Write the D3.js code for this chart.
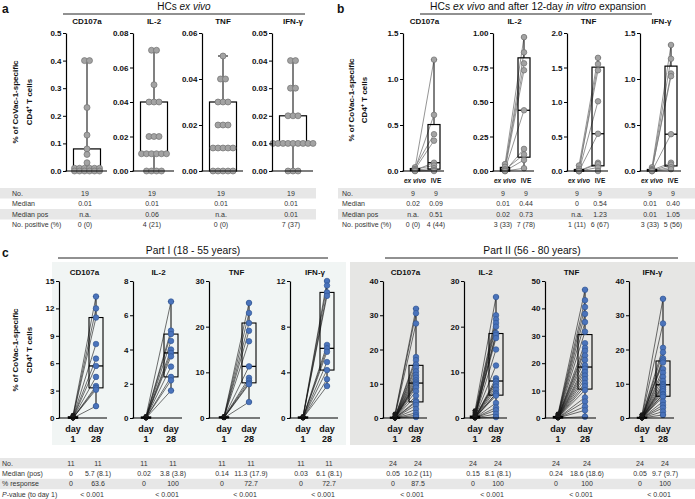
<!DOCTYPE html>
<html><head><meta charset="utf-8">
<script src="https://cdn.jsdelivr.net/npm/d3@7"></script>
<style>body{margin:0;background:#fff}svg{display:block}</style>
</head><body><svg id="chart" width="695" height="499"></svg>
<script>
// ---------------- DATA ----------------
const cytokines = ["CD107a", "IL-2", "TNF", "IFN-γ"];
// panel a: HCs ex vivo (n=19)
const aCD107a = [0.40,0.40,0.23,0.13,0.08,0.06,0.03,0.01,0.01,0.01,0.01,0.01,0.01,0,0,0,0,0,0];
const aIL2    = [0.07,0.07,0.05,0.04,0.04,0.04,0.02,0.02,0.02,0.01,0.01,0.01,0.01,0.01,0.01,0,0,0,0];
const aTNF    = [0.05,0.04,0.04,0.03,0.03,0.03,0.02,0.02,0.02,0.01,0.01,0.01,0.01,0.01,0,0,0,0,0];
const aIFNg   = [0.04,0.04,0.03,0.03,0.02,0.02,0.02,0.01,0.01,0.01,0.01,0.01,0.01,0.01,0.01,0.01,0,0,0];
const aTicks = [[0,0.1,0.2,0.3,0.4,0.5],[0,0.02,0.04,0.06,0.08],[0,0.02,0.04,0.06],[0,0.01,0.02,0.03,0.04,0.05]];
const aTickFmt = [".1f",".2f",".2f",".2f"];
const aRowLabels = ["No.","Median","Median pos","No. positive (%)"];
const aNo = ["19","19","19","19"];
const aMedian = ["0.01","0.01","0.01","0.01"];
const aMedianPos = ["n.a.","0.06","n.a.","0.01"];
const aPositive = ["0 (0)","4 (21)","0 (0)","7 (37)"];

// panel b: ex vivo vs IVE (n=9, paired)
const bCD107aExVivo = [0.03,0.02,0.04,0.02,0.01,0.02,0.01,0,0];
const bCD107aIVE    = [1.21,0.61,0.40,0.33,0.09,0.06,0.03,0.01,0];
const bIL2ExVivo    = [0.05,0.02,0.03,0.01,0.01,0,0.01,0,0];
const bIL2IVE       = [0.97,0.86,0.78,0.73,0.44,0.16,0.12,0.08,0.02];
const bTNFExVivo    = [0.08,0.01,0.03,0,0,0,0,0,0];
const bTNFIVE       = [1.64,1.55,1.46,1.01,0.54,0.12,0.10,0.05,0];
const bIFNgExVivo   = [0.04,0.02,0.01,0.01,0,0.01,0,0,0];
const bIFNgIVE      = [1.37,1.22,1.06,1.03,0.40,0.09,0.07,0.04,0.02];
const bTicks = [[0,0.5,1,1.5],[0,0.25,0.5,0.75,1],[0,0.5,1,1.5,2],[0,0.5,1,1.5]];
const bTickFmt = [".1f",".2f",".1f",".1f"];
const bGroups = ["ex vivo","IVE"];
const bNo = ["9","9","9","9","9","9","9","9"];
const bMedian = ["0.02","0.09","0.01","0.44","0","0.54","0.01","0.40"];
const bMedianPos = ["n.a.","0.51","0.02","0.73","n.a.","1.23","0.01","1.05"];
const bPositive = ["0 (0)","4 (44)","3 (33)","7 (78)","1 (11)","6 (67)","3 (33)","5 (56)"];

// panel c Part I (18-55 years, n=11)
const c1CD107aD1  = [0.30,0.20,0.12,0.08,0.05,0,0,0,0,0,0];
const c1CD107aD28 = [13.3,12.0,11.0,8.1,6.5,5.7,4.5,3.5,3.3,3.1,1.3];
const c1IL2D1     = [0.10,0.08,0.05,0.04,0.03,0.02,0.01,0.01,0,0,0];
const c1IL2D28    = [6.8,5.1,4.9,4.5,4.0,3.8,3.6,3.0,2.4,2.2,1.6];
const c1TNFD1     = [0.35,0.28,0.22,0.18,0.15,0.14,0.12,0.10,0.08,0.05,0.02];
const c1TNFD28    = [25.2,23.0,20.8,19.1,16.8,11.3,8.8,8.2,7.7,7.4,3.5];
const c1IFNgD1    = [0.15,0.10,0.08,0.06,0.05,0.03,0.02,0.01,0.01,0,0];
const c1IFNgD28   = [12.0,11.6,11.0,10.7,6.4,6.1,5.8,4.9,4.2,3.4,2.8];
const c1Ticks = [[0,3,6,9,12,15],[0,2,4,6,8],[0,10,20,30],[0,4,8,12]];
// panel c Part II (56-80 years, n=24)
const c2CD107aD1  = [1.2,0.9,0.6,0.4,0.3,0.2,0.15,0.1,0.1,0.08,0.06,0.05,0.05,0.04,0.03,0.02,0.01,0,0,0,0,0,0,0];
const c2CD107aD28 = [31.9,30.6,27.6,17.8,16.9,15.6,14.7,13.6,12.6,11.8,11.0,10.4,10.0,9.6,8.9,7.8,6.5,5.0,4.6,3.8,2.6,1.5,0.8,0.3];
const c2IL2D1     = [1.6,1.2,0.9,0.7,0.5,0.4,0.3,0.25,0.2,0.18,0.16,0.15,0.15,0.12,0.1,0.08,0.06,0.05,0.04,0.03,0.02,0.01,0,0];
const c2IL2D28    = [26.5,22.5,21.6,20.8,20.0,18.6,18.2,17.5,15.0,11.5,8.7,8.2,8.0,7.5,6.9,6.2,5.4,5.3,4.9,3.3,2.3,1.7,0.9,0.2];
const c2TNFD1     = [1.5,1.2,1.0,0.8,0.6,0.5,0.45,0.4,0.35,0.3,0.27,0.25,0.23,0.2,0.18,0.15,0.12,0.1,0.08,0.06,0.04,0.02,0.01,0];
const c2TNFD28    = [46.8,43.0,40.5,38.0,35.0,31.5,27.3,25.6,24.5,22.8,21.2,19.2,18.0,16.8,15.5,14.2,12.8,11.6,10.2,7.5,6.0,4.2,2.8,0.5];
const c2IFNgD1    = [1.0,0.7,0.5,0.3,0.2,0.15,0.12,0.1,0.08,0.07,0.06,0.05,0.05,0.04,0.03,0.02,0.02,0.01,0.01,0,0,0,0,0];
const c2IFNgD28   = [34.8,27.6,20.5,19.2,17.4,16.8,16.2,14.3,13.2,12.0,10.8,9.9,9.5,9.0,8.4,7.8,7.0,6.8,6.2,4.8,3.8,3.0,1.9,0.9];
const c2Ticks = [[0,10,20,30,40],[0,10,20,30],[0,10,20,30,40,50],[0,10,20,30,40]];
const cDays = [["day","1"],["day","28"]];
const cRowLabels = ["No.","Median (pos)","% response","-value (to day 1)"];
const c1No = ["11","11","11","11","11","11","11","11"];
const c1Median = ["0","5.7 (8.1)","0.02","3.8 (3.8)","0.14","11.3 (17.9)","0.03","6.1 (8.1)"];
const c1Response = ["0","63.6","0","100","0","72.7","0","72.7"];
const c1P = ["< 0.001","< 0.001","< 0.001","< 0.001"];
const c2No = ["24","24","24","24","24","24","24","24"];
const c2Median = ["0.05","10.2 (11)","0.15","8.1 (8.1)","0.24","18.6 (18.6)","0.05","9.7 (9.7)"];
const c2Response = ["0","87.5","0","100","0","100","0","100"];
const c2P = ["< 0.001","< 0.001","< 0.001","< 0.001"];

// ---------------- DRAWING ----------------
const F = "'Liberation Sans', Arial, Helvetica, sans-serif";
const svg = d3.select("#chart");

function q(s,p){const n=s.length,pos=p*(n+1);if(pos<=1)return s[0];if(pos>=n)return s[n-1];const lo=Math.floor(pos);return s[lo-1]+(pos-lo)*(s[lo]-s[lo-1]);}
function stats(v){const s=v.slice().sort((a,b)=>a-b);return {min:s[0],q1:q(s,.25),med:q(s,.5),q3:q(s,.75),max:s[s.length-1]};}

function txt(x,y,t,o={}){
  return svg.append("text").attr("x",x).attr("y",y).text(t)
    .attr("font-family",F).attr("font-size",o.size||8)
    .attr("font-weight",o.weight||"normal").attr("font-style",o.style||"normal")
    .attr("fill",o.fill||"#111").attr("text-anchor",o.anchor||"middle");
}
function yAxis(x,y,ticks,fmt){
  const g=svg.append("g").attr("transform",`translate(${x},0)`)
    .call(d3.axisLeft(y).tickValues(ticks).tickFormat(fmt).tickSize(3).tickSizeOuter(0).tickPadding(1.5));
  g.select(".domain").attr("stroke","#000").attr("stroke-width",1.2);
  g.selectAll(".tick line").attr("stroke","#000").attr("stroke-width",1);
  g.selectAll("text").attr("font-size",8).attr("font-weight","bold").attr("font-family",F).attr("fill","#111");
}
function xLine(x,len,y0){svg.append("line").attr("x1",x-0.6).attr("x2",x+len).attr("y1",y0).attr("y2",y0).attr("stroke","#000").attr("stroke-width",1.2);}
function box(cx,w,vals,y,o){
  const st=stats(vals);
  const g=svg.append("g");
  const wc=o.wc||"#000", ww=o.ww||1, cap=o.cap||6;
  g.append("line").attr("x1",cx).attr("x2",cx).attr("y1",y(st.max)).attr("y2",y(st.q3)).attr("stroke",wc).attr("stroke-width",ww);
  g.append("line").attr("x1",cx).attr("x2",cx).attr("y1",y(st.q1)).attr("y2",y(st.min)).attr("stroke",wc).attr("stroke-width",ww);
  [st.max,st.min].forEach(v=>g.append("line").attr("x1",cx-cap/2).attr("x2",cx+cap/2).attr("y1",y(v)).attr("y2",y(v)).attr("stroke",wc).attr("stroke-width",ww));
  g.append("rect").attr("x",cx-w/2).attr("width",w).attr("y",y(st.q3)).attr("height",Math.max(0.1,y(st.q1)-y(st.q3)))
    .attr("fill","none").attr("stroke","#000").attr("stroke-width",o.bw||1.2);
  g.append("line").attr("x1",cx-w/2).attr("x2",cx+w/2).attr("y1",y(st.med)).attr("y2",y(st.med)).attr("stroke","#000").attr("stroke-width",o.mw||1.5);
}
function jitter(vals,sp){const c={},idx={};vals.forEach(v=>c[v]=(c[v]||0)+1);return vals.map(v=>{const i=idx[v]||0;idx[v]=i+1;return (i-(c[v]-1)/2)*sp;});}
function yTitle(x1,x2,cy){
  txt(0,0,"% of CoVac-1-specific",{size:8,weight:"bold"}).attr("transform",`translate(${x1},${cy}) rotate(-90)`);
  const t=txt(0,0,"CD4",{size:8,weight:"bold"}).attr("transform",`translate(${x2},${cy}) rotate(-90)`);
  t.append("tspan").attr("font-size",5.5).attr("dy",-3).text("+");
  t.append("tspan").attr("dy",3).text(" T cells");
}
function bands(x0,x1,y0,rh,n){
  for(let i=0;i<n;i+=2) svg.append("rect").attr("x",x0).attr("y",y0+i*rh).attr("width",x1-x0).attr("height",rh).attr("fill","#e7e7e7");
}

// ---------- panel a ----------
txt(2,13,"a",{size:12,weight:"bold",anchor:"start"});
{const t=txt(184,10,"HCs ",{size:10});t.append("tspan").attr("font-style","italic").text("ex vivo");}
svg.append("line").attr("x1",63).attr("x2",305).attr("y1",14).attr("y2",14).attr("stroke","#222").attr("stroke-width",1);
yTitle(18,32,102);
const aAxisX=[66,133,202,272];
const aVals=[aCD107a,aIL2,aTNF,aIFNg];
const aTop=33,aZero=171;
const aCenters=[];
aVals.forEach((vals,i)=>{
  const x0=aAxisX[i], cx=x0+21; aCenters.push(cx);
  const y=d3.scaleLinear().domain([0,d3.max(aTicks[i])]).range([aZero,aTop]);
  box(cx,27,vals,y,{wc:"#808080",ww:2,cap:10,bw:1.2,mw:1.5});
  const jx=jitter(vals,5);
  svg.append("g").selectAll("circle").data(vals).join("circle")
    .attr("cx",(d,k)=>cx+jx[k]).attr("cy",d=>y(d)).attr("r",3)
    .attr("fill","#a3a3a3").attr("stroke","#707070").attr("stroke-width",0.7);
  yAxis(x0,y,aTicks[i],d3.format(aTickFmt[i]));
  xLine(x0,41,aZero);
  txt(cx,24,cytokines[i],{size:8,weight:"bold"});
});
// table a
const tRow0=188, tRh=10.5;
bands(0,316,tRow0,tRh,4);
aRowLabels.forEach((l,r)=>txt(12,tRow0+r*tRh+7.5,l,{size:7,anchor:"start",fill:"#333"}));
[aNo,aMedian,aMedianPos,aPositive].forEach((row,r)=>row.forEach((v,i)=>txt(aCenters[i]-2,tRow0+r*tRh+7.5,v,{size:7,fill:"#333"})));

// ---------- panel b ----------
txt(337,13,"b",{size:12,weight:"bold",anchor:"start"});
{const t=txt(538,10,"HCs ",{size:10.3});t.append("tspan").attr("font-style","italic").text("ex vivo");
 t.append("tspan").text(" and after 12-day ");t.append("tspan").attr("font-style","italic").text("in vitro");t.append("tspan").text(" expansion");}
svg.append("line").attr("x1",420).attr("x2",652).attr("y1",14).attr("y2",14).attr("stroke","#222").attr("stroke-width",1);
yTitle(354,367,100);
const bAxisX=[403,493,567,640];
const bPairs=[[bCD107aExVivo,bCD107aIVE],[bIL2ExVivo,bIL2IVE],[bTNFExVivo,bTNFIVE],[bIFNgExVivo,bIFNgIVE]];
const bCols=[];
bPairs.forEach((pair,i)=>{
  const x0=bAxisX[i], x1=x0+12, x2=x0+31; bCols.push(x1-2,x2+2);
  const y=d3.scaleLinear().domain([0,d3.max(bTicks[i])]).range([aZero,aTop]);
  svg.append("g").selectAll("line").data(d3.zip(pair[0],pair[1])).join("line")
    .attr("x1",x1).attr("x2",x2).attr("y1",d=>y(d[0])).attr("y2",d=>y(d[1]))
    .attr("stroke","#7a7a7a").attr("stroke-width",0.8);
  box(x1,9,pair[0],y,{wc:"#000",ww:1,cap:5,bw:1.5,mw:1.5});
  box(x2,12,pair[1],y,{wc:"#000",ww:1,cap:6,bw:1.2,mw:1.3});
  [x1,x2].forEach((cx,k)=>svg.append("g").selectAll("circle").data(pair[k]).join("circle")
    .attr("cx",cx).attr("cy",d=>y(d)).attr("r",2.8)
    .attr("fill","#a3a3a3").attr("stroke","#707070").attr("stroke-width",0.7));
  yAxis(x0,y,bTicks[i],d3.format(bTickFmt[i]));
  xLine(x0,41,aZero);
  txt((x1+x2)/2,24,cytokines[i],{size:8,weight:"bold"});
  txt(x1,183,bGroups[0],{size:6.5,weight:"bold",style:"italic"});
  txt(x2+2,183,bGroups[1],{size:6.5,weight:"bold"});
});
bands(338,695,tRow0,tRh,4);
aRowLabels.forEach((l,r)=>txt(342,tRow0+r*tRh+7.5,l,{size:7,anchor:"start",fill:"#333"}));
[bNo,bMedian,bMedianPos,bPositive].forEach((row,r)=>row.forEach((v,i)=>txt(bCols[i],tRow0+r*tRh+7.5,v,{size:7,fill:"#333"})));

// ---------- panel c ----------
svg.append("rect").attr("x",52).attr("y",262).attr("width",294).attr("height",183).attr("fill","#f1f5f4");
svg.append("rect").attr("x",350).attr("y",262).attr("width",345).attr("height",183).attr("fill","#e6e6e4");
txt(2,257,"c",{size:12,weight:"bold",anchor:"start"});
txt(193,254,"Part I (18 - 55 years)",{size:10.3});
txt(532,254,"Part II (56 - 80 years)",{size:10.3});
svg.append("line").attr("x1",58).attr("x2",328).attr("y1",258).attr("y2",258).attr("stroke","#222").attr("stroke-width",1);
svg.append("line").attr("x1",385).attr("x2",678).attr("y1",258).attr("y2",258).attr("stroke","#222").attr("stroke-width",1);
yTitle(18,32,350);
const cTop=281,cZero=418;
const cCols=[];
function partC(axisX,d1Off,d28Off,pairs,ticks){
  pairs.forEach((pair,i)=>{
    const x0=axisX[i], x1=x0+d1Off[i], x2=x0+d28Off[i]; cCols.push(x1-2,x2+2);
    const y=d3.scaleLinear().domain([0,d3.max(ticks[i])]).range([cZero,cTop]);
    svg.append("g").selectAll("line").data(d3.zip(pair[0],pair[1])).join("line")
      .attr("x1",x1).attr("x2",x2).attr("y1",d=>y(d[0])).attr("y2",d=>y(d[1]))
      .attr("stroke","#111").attr("stroke-width",0.6);
    box(x1,9,pair[0],y,{wc:"#000",ww:1,cap:5,bw:1.5,mw:1.5});
    box(x2,14,pair[1],y,{wc:"#000",ww:1,cap:6,bw:1.1,mw:1.3});
    svg.append("g").selectAll("circle").data(pair[0]).join("circle")
      .attr("cx",x1).attr("cy",d=>y(d)).attr("r",2.4).attr("fill","#1a1a1a");
    svg.append("g").selectAll("circle").data(pair[1]).join("circle")
      .attr("cx",x2).attr("cy",d=>y(d)).attr("r",2.8)
      .attr("fill","#4a73bb").attr("stroke","#2d528f").attr("stroke-width",0.6);
    yAxis(x0,y,ticks[i],d3.format("d"));
    xLine(x0,d28Off[i]+11,cZero);
    txt((x1+x2)/2,275,cytokines[i],{size:8,weight:"bold"});
    [x1,x2].forEach((cx,k)=>{txt(cx,432,cDays[k][0],{size:9,weight:"bold"});txt(cx,442,cDays[k][1],{size:9,weight:"bold"});});
  });
}
partC([59,133,209,290],[14,13,15,13],[37,38,40,37],[[c1CD107aD1,c1CD107aD28],[c1IL2D1,c1IL2D28],[c1TNFD1,c1TNFD28],[c1IFNgD1,c1IFNgD28]],c1Ticks);
partC([383,464,545,629],[12,11,13,13],[33,32,40,34],[[c2CD107aD1,c2CD107aD28],[c2IL2D1,c2IL2D28],[c2TNFD1,c2TNFD28],[c2IFNgD1,c2IFNgD28]],c2Ticks);
const cRow0=458, cRh=10.4;
bands(0,695,cRow0,cRh,4);
cRowLabels.forEach((l,r)=>{
  const t=txt(2,cRow0+r*cRh+7.5,r===3?"":l,{size:7,anchor:"start",fill:"#333"});
  if(r===3){t.append("tspan").attr("font-style","italic").text("P");t.append("tspan").text(l);}
});
const cNo=c1No.concat(c2No), cMed=c1Median.concat(c2Median), cResp=c1Response.concat(c2Response), cP=c1P.concat(c2P);
[cNo,cMed,cResp].forEach((row,r)=>row.forEach((v,i)=>txt(cCols[i],cRow0+r*cRh+7.5,v,{size:7,fill:"#333"})));
cP.forEach((v,i)=>txt(cCols[2*i+1]-6,cRow0+3*cRh+7.5,v,{size:7,fill:"#333"}));
</script></body></html>
